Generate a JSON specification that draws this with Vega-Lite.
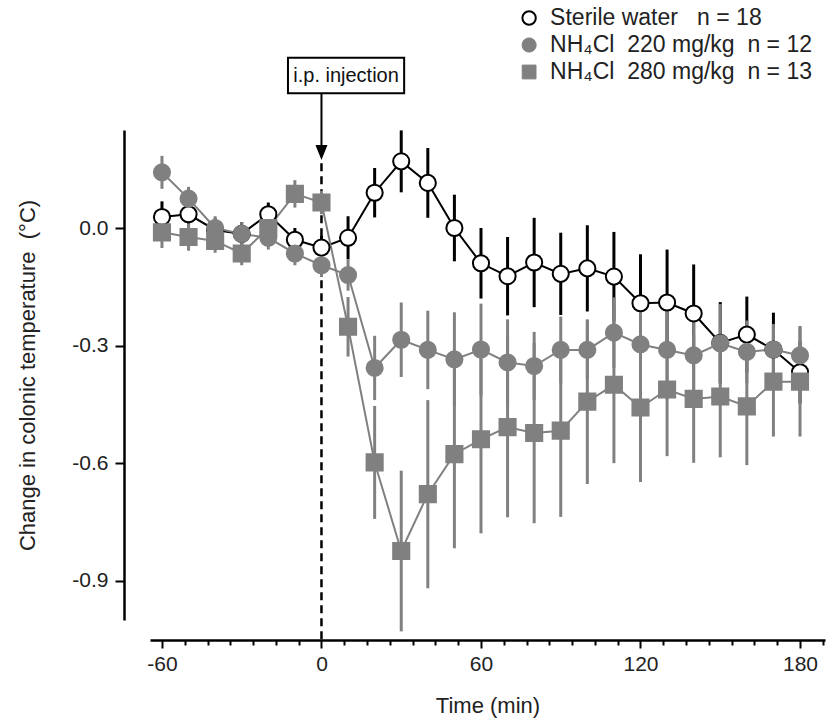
{
  "$schema": "https://vega.github.io/schema/vega-lite/v6.json",
  "width": 675,
  "height": 490,
  "autosize": {"type": "none"},
  "padding": {"left": 150, "top": 130, "right": 2, "bottom": 99},
  "config": {
    "view": {"stroke": null},
    "font": "Liberation Sans, Arial, sans-serif",
    "axis": {
      "grid": false,
      "domainColor": "black",
      "domainWidth": 2.5,
      "tickColor": "black",
      "tickWidth": 2,
      "labelFontSize": 21,
      "labelColor": "#222",
      "titleFontSize": 22,
      "titleFontWeight": "normal",
      "titleColor": "#222",
      "labelFlush": false,
      "labelOverlap": false
    }
  },
  "resolve": {"axis": {"x": "independent"}},
  "datasets": {
    "temp": [
      {"group": "water", "time": -60, "mean": 0.028, "sem": 0.04},
      {"group": "water", "time": -50, "mean": 0.035, "sem": 0.03},
      {"group": "water", "time": -40, "mean": -0.005, "sem": 0.03},
      {"group": "water", "time": -30, "mean": -0.015, "sem": 0.03},
      {"group": "water", "time": -20, "mean": 0.035, "sem": 0.03},
      {"group": "water", "time": -10, "mean": -0.03, "sem": 0.03},
      {"group": "water", "time": 0, "mean": -0.05, "sem": 0.03},
      {"group": "water", "time": 10, "mean": -0.025, "sem": 0.055},
      {"group": "water", "time": 20, "mean": 0.09, "sem": 0.063},
      {"group": "water", "time": 30, "mean": 0.17, "sem": 0.079},
      {"group": "water", "time": 40, "mean": 0.115, "sem": 0.089},
      {"group": "water", "time": 50, "mean": 0.0, "sem": 0.085},
      {"group": "water", "time": 60, "mean": -0.09, "sem": 0.09},
      {"group": "water", "time": 70, "mean": -0.123, "sem": 0.1},
      {"group": "water", "time": 80, "mean": -0.088, "sem": 0.114},
      {"group": "water", "time": 90, "mean": -0.117, "sem": 0.105},
      {"group": "water", "time": 100, "mean": -0.103, "sem": 0.11},
      {"group": "water", "time": 110, "mean": -0.124, "sem": 0.114},
      {"group": "water", "time": 120, "mean": -0.192, "sem": 0.125},
      {"group": "water", "time": 130, "mean": -0.19, "sem": 0.135},
      {"group": "water", "time": 140, "mean": -0.218, "sem": 0.125},
      {"group": "water", "time": 150, "mean": -0.293, "sem": 0.104},
      {"group": "water", "time": 160, "mean": -0.272, "sem": 0.097},
      {"group": "water", "time": 170, "mean": -0.31, "sem": 0.094},
      {"group": "water", "time": 180, "mean": -0.368, "sem": 0.08},
      {"group": "n220", "time": -60, "mean": 0.142, "sem": 0.042},
      {"group": "n220", "time": -50, "mean": 0.075, "sem": 0.03},
      {"group": "n220", "time": -40, "mean": 0.0, "sem": 0.03},
      {"group": "n220", "time": -30, "mean": -0.015, "sem": 0.03},
      {"group": "n220", "time": -20, "mean": -0.025, "sem": 0.03},
      {"group": "n220", "time": -10, "mean": -0.065, "sem": 0.03},
      {"group": "n220", "time": 0, "mean": -0.095, "sem": 0.03},
      {"group": "n220", "time": 10, "mean": -0.12, "sem": 0.04},
      {"group": "n220", "time": 20, "mean": -0.357, "sem": 0.082},
      {"group": "n220", "time": 30, "mean": -0.285, "sem": 0.095},
      {"group": "n220", "time": 40, "mean": -0.311, "sem": 0.1},
      {"group": "n220", "time": 50, "mean": -0.335, "sem": 0.12},
      {"group": "n220", "time": 60, "mean": -0.31, "sem": 0.117},
      {"group": "n220", "time": 70, "mean": -0.343, "sem": 0.11},
      {"group": "n220", "time": 80, "mean": -0.352, "sem": 0.087},
      {"group": "n220", "time": 90, "mean": -0.311, "sem": 0.085},
      {"group": "n220", "time": 100, "mean": -0.311, "sem": 0.075},
      {"group": "n220", "time": 110, "mean": -0.267, "sem": 0.09},
      {"group": "n220", "time": 120, "mean": -0.297, "sem": 0.11},
      {"group": "n220", "time": 130, "mean": -0.311, "sem": 0.127},
      {"group": "n220", "time": 140, "mean": -0.325, "sem": 0.12},
      {"group": "n220", "time": 150, "mean": -0.294, "sem": 0.1},
      {"group": "n220", "time": 160, "mean": -0.316, "sem": 0.08},
      {"group": "n220", "time": 170, "mean": -0.31, "sem": 0.065},
      {"group": "n220", "time": 180, "mean": -0.325, "sem": 0.075},
      {"group": "n280", "time": -60, "mean": -0.011, "sem": 0.04},
      {"group": "n280", "time": -50, "mean": -0.023, "sem": 0.035},
      {"group": "n280", "time": -40, "mean": -0.033, "sem": 0.03},
      {"group": "n280", "time": -30, "mean": -0.065, "sem": 0.03},
      {"group": "n280", "time": -20, "mean": 0.0, "sem": 0.03},
      {"group": "n280", "time": -10, "mean": 0.087, "sem": 0.035},
      {"group": "n280", "time": 0, "mean": 0.065, "sem": 0.03},
      {"group": "n280", "time": 10, "mean": -0.252, "sem": 0.076},
      {"group": "n280", "time": 20, "mean": -0.598, "sem": 0.144},
      {"group": "n280", "time": 30, "mean": -0.824, "sem": 0.205},
      {"group": "n280", "time": 40, "mean": -0.679, "sem": 0.24},
      {"group": "n280", "time": 50, "mean": -0.577, "sem": 0.24},
      {"group": "n280", "time": 60, "mean": -0.539, "sem": 0.24},
      {"group": "n280", "time": 70, "mean": -0.508, "sem": 0.23},
      {"group": "n280", "time": 80, "mean": -0.523, "sem": 0.23},
      {"group": "n280", "time": 90, "mean": -0.517, "sem": 0.22},
      {"group": "n280", "time": 100, "mean": -0.443, "sem": 0.21},
      {"group": "n280", "time": 110, "mean": -0.4, "sem": 0.2},
      {"group": "n280", "time": 120, "mean": -0.458, "sem": 0.19},
      {"group": "n280", "time": 130, "mean": -0.412, "sem": 0.17},
      {"group": "n280", "time": 140, "mean": -0.436, "sem": 0.163},
      {"group": "n280", "time": 150, "mean": -0.43, "sem": 0.155},
      {"group": "n280", "time": 160, "mean": -0.455, "sem": 0.15},
      {"group": "n280", "time": 170, "mean": -0.392, "sem": 0.14},
      {"group": "n280", "time": 180, "mean": -0.392, "sem": 0.14}
    ],
    "note": [{"label": "i.p. injection"}],
    "key1": [{"label": "Sterile water\u00a0\u00a0 n = 18"}],
    "key2": [{"label": "NH\u2084Cl\u00a0\u00a0220 mg/kg\u00a0\u00a0n = 12"}],
    "key3": [{"label": "NH\u2084Cl\u00a0\u00a0280 mg/kg\u00a0\u00a0n = 13"}]
  },
  "layer": [
    {
      "data": {"name": "note"},
      "mark": {"type": "rule", "strokeDash": [8, 5], "strokeWidth": 2.5, "color": "black", "clip": false},
      "encoding": {
        "x": {
          "datum": 0,
          "type": "quantitative",
          "title": "Time (min)",
          "scale": {"domain": [-64.5, 189.4], "nice": false, "zero": false},
          "axis": {
            "title": "Time (min)",
            "orient": "bottom",
            "offset": 20,
            "values": [-60, 0, 60, 120, 180],
            "labelExpr": "toString(datum.value)",
            "tickSize": 8,
            "labelPadding": 5,
            "titlePadding": 21
          }
        },
        "y": {
          "datum": 0.165,
          "type": "quantitative",
          "title": "Change in colonic temperature\u00a0\u00a0(°C)",
          "scale": {"domain": [-1.0, 0.25], "nice": false, "zero": false},
          "axis": {
            "title": "Change in colonic temperature\u00a0\u00a0(°C)",
            "offset": 26,
            "values": [0, -0.3, -0.6, -0.9],
            "labelExpr": "replace(format(datum.value, '.1f'), '\u2212', '-')",
            "tickSize": 9,
            "labelPadding": 7,
            "titlePadding": 32
          }
        },
        "y2": {"datum": -1.05}
      }
    },
    {
      "data": {"name": "temp"},
      "mark": {"type": "errorbar", "thickness": 3},
      "encoding": {
        "x": {
          "field": "time",
          "type": "quantitative",
          "title": "Time (min)",
          "axis": {
            "title": null,
            "orient": "bottom",
            "offset": 20,
            "domain": false,
            "labels": false,
            "tickSize": 5,
            "values": [-51.4286, -42.8571, -34.2857, -25.7143, -17.1429, -8.5714, 8.5714, 17.1429, 25.7143, 34.2857, 42.8571, 51.4286, 68.5714, 77.1429, 85.7143, 94.2857, 102.8571, 111.4286, 128.5714, 137.1429, 145.7143, 154.2857, 162.8571, 171.4286, 188.5714]
          }
        },
        "y": {"field": "mean", "type": "quantitative", "title": "Change in colonic temperature\u00a0\u00a0(°C)"},
        "yError": {"field": "sem"},
        "color": {
          "field": "group",
          "type": "nominal",
          "scale": {"domain": ["water", "n220", "n280"], "range": ["black", "#808080", "#808080"]},
          "legend": null
        }
      }
    },
    {
      "data": {"name": "temp"},
      "mark": {"type": "line", "strokeWidth": 2},
      "encoding": {
        "x": {"field": "time", "type": "quantitative", "axis": null},
        "y": {"field": "mean", "type": "quantitative", "title": "Change in colonic temperature\u00a0\u00a0(°C)"},
        "color": {"field": "group", "type": "nominal", "legend": null}
      }
    },
    {
      "data": {"name": "temp"},
      "mark": {"type": "point", "opacity": 1, "strokeWidth": 2, "size": 260},
      "encoding": {
        "x": {"field": "time", "type": "quantitative", "axis": null},
        "y": {"field": "mean", "type": "quantitative", "title": "Change in colonic temperature\u00a0\u00a0(°C)"},
        "fill": {
          "field": "group",
          "type": "nominal",
          "scale": {"domain": ["water", "n220", "n280"], "range": ["white", "#808080", "#808080"]},
          "legend": null
        },
        "stroke": {
          "field": "group",
          "type": "nominal",
          "scale": {"domain": ["water", "n220", "n280"], "range": ["black", "#808080", "#808080"]},
          "legend": null
        },
        "shape": {
          "field": "group",
          "type": "nominal",
          "scale": {"domain": ["water", "n220", "n280"], "range": ["circle", "circle", "square"]},
          "legend": null
        }
      }
    },
    {
      "data": {"name": "note"},
      "mark": {"type": "rect", "fill": "white", "stroke": "black", "strokeWidth": 2, "clip": false},
      "encoding": {
        "x": {"datum": -12.6, "type": "quantitative", "axis": null},
        "x2": {"datum": 31.1},
        "y": {"datum": 0.434, "type": "quantitative"},
        "y2": {"datum": 0.344}
      }
    },
    {
      "data": {"name": "note"},
      "mark": {"type": "text", "fontSize": 20, "color": "#111", "align": "center", "baseline": "middle", "clip": false},
      "encoding": {
        "x": {"datum": 9.25, "type": "quantitative", "axis": null},
        "y": {"datum": 0.387, "type": "quantitative"},
        "text": {"field": "label"}
      }
    },
    {
      "data": {"name": "note"},
      "mark": {"type": "rule", "strokeWidth": 2, "color": "black", "clip": false},
      "encoding": {
        "x": {"datum": 0, "type": "quantitative", "axis": null},
        "y": {"datum": 0.344, "type": "quantitative"},
        "y2": {"datum": 0.21}
      }
    },
    {
      "data": {"name": "note"},
      "mark": {"type": "point", "shape": "M-0.8,-1L0.8,-1L0,1Z", "filled": true, "color": "black", "opacity": 1, "size": 225, "clip": false},
      "encoding": {
        "x": {"datum": 0, "type": "quantitative", "axis": null},
        "y": {"datum": 0.1926, "type": "quantitative"}
      }
    },
    {
      "data": {"name": "key1"},
      "mark": {"type": "point", "shape": "circle", "fill": "white", "stroke": "black", "strokeWidth": 2, "opacity": 1, "size": 180, "clip": false},
      "encoding": {
        "x": {"datum": 78.1, "type": "quantitative", "axis": null},
        "y": {"datum": 0.5357, "type": "quantitative"}
      }
    },
    {
      "data": {"name": "key2"},
      "mark": {"type": "point", "shape": "circle", "fill": "#808080", "stroke": "#808080", "strokeWidth": 1, "opacity": 1, "size": 200, "clip": false},
      "encoding": {
        "x": {"datum": 78.1, "type": "quantitative", "axis": null},
        "y": {"datum": 0.4668, "type": "quantitative"}
      }
    },
    {
      "data": {"name": "key3"},
      "mark": {"type": "point", "shape": "square", "fill": "#808080", "stroke": "#808080", "strokeWidth": 1, "opacity": 1, "size": 190, "clip": false},
      "encoding": {
        "x": {"datum": 78.1, "type": "quantitative", "axis": null},
        "y": {"datum": 0.398, "type": "quantitative"}
      }
    },
    {
      "data": {"name": "key1"},
      "mark": {"type": "text", "fontSize": 23, "color": "#222", "align": "left", "baseline": "middle", "clip": false},
      "encoding": {
        "x": {"datum": 86.0, "type": "quantitative", "axis": null},
        "y": {"datum": 0.5357, "type": "quantitative"},
        "text": {"field": "label"}
      }
    },
    {
      "data": {"name": "key2"},
      "mark": {"type": "text", "fontSize": 23, "color": "#222", "align": "left", "baseline": "middle", "clip": false},
      "encoding": {
        "x": {"datum": 86.0, "type": "quantitative", "axis": null},
        "y": {"datum": 0.4668, "type": "quantitative"},
        "text": {"field": "label"}
      }
    },
    {
      "data": {"name": "key3"},
      "mark": {"type": "text", "fontSize": 23, "color": "#222", "align": "left", "baseline": "middle", "clip": false},
      "encoding": {
        "x": {"datum": 86.0, "type": "quantitative", "axis": null},
        "y": {"datum": 0.398, "type": "quantitative"},
        "text": {"field": "label"}
      }
    }
  ]
}
